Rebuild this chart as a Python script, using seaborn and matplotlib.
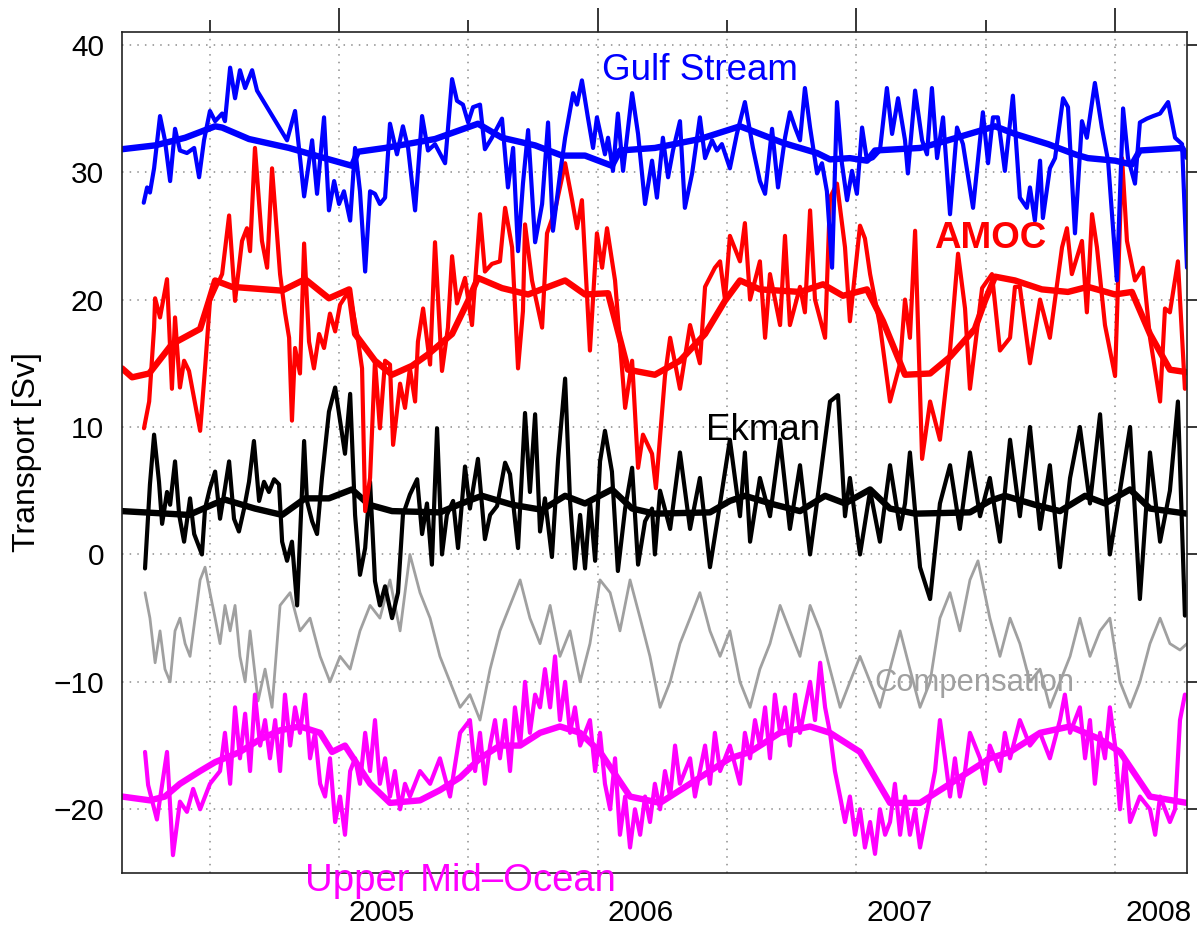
import matplotlib
matplotlib.use("Agg")
import matplotlib.pyplot as plt
import matplotlib.transforms as mtransforms
import seaborn as sns

# time axis in decimal years, transports in Sv
gs_t = [2004.245, 2004.258, 2004.269, 2004.285, 2004.308, 2004.327, 2004.347, 2004.366, 2004.385, 2004.412,
        2004.440, 2004.459, 2004.478, 2004.501, 2004.521, 2004.548, 2004.559, 2004.579, 2004.598, 2004.617,
        2004.637, 2004.664, 2004.683, 2004.799, 2004.830, 2004.865, 2004.896, 2004.915, 2004.942, 2004.961,
        2004.981, 2005.000, 2005.019, 2005.043, 2005.062, 2005.081, 2005.101, 2005.120, 2005.139, 2005.158,
        2005.178, 2005.197, 2005.224, 2005.247, 2005.267, 2005.294, 2005.321, 2005.344, 2005.371, 2005.410,
        2005.437, 2005.456, 2005.479, 2005.499, 2005.518, 2005.545, 2005.564, 2005.591, 2005.630, 2005.653,
        2005.673, 2005.692, 2005.711, 2005.731, 2005.758, 2005.785, 2005.808, 2005.827, 2005.854, 2005.874,
        2005.905, 2005.920, 2005.939, 2005.962, 2005.982, 2005.997, 2006.028, 2006.040, 2006.059, 2006.078,
        2006.098, 2006.133, 2006.156, 2006.183, 2006.210, 2006.229, 2006.252, 2006.272, 2006.291, 2006.318,
        2006.337, 2006.365, 2006.395, 2006.415, 2006.442, 2006.461, 2006.480, 2006.511, 2006.538, 2006.569,
        2006.600, 2006.627, 2006.647, 2006.674, 2006.697, 2006.724, 2006.743, 2006.763, 2006.782, 2006.801,
        2006.821, 2006.848, 2006.867, 2006.886, 2006.906, 2006.925, 2006.944, 2006.964, 2006.983, 2007.002,
        2007.022, 2007.041, 2007.064, 2007.091, 2007.118, 2007.138, 2007.161, 2007.188, 2007.199, 2007.227,
        2007.254, 2007.273, 2007.292, 2007.312, 2007.335, 2007.362, 2007.389, 2007.412, 2007.451, 2007.489,
        2007.509, 2007.528, 2007.547, 2007.574, 2007.605, 2007.632, 2007.659, 2007.671, 2007.690, 2007.710,
        2007.721, 2007.748, 2007.768, 2007.799, 2007.818, 2007.845, 2007.872, 2007.891, 2007.922, 2007.949,
        2007.973, 2008.007, 2008.031, 2008.050, 2008.077, 2008.096, 2008.123, 2008.147, 2008.174, 2008.205,
        2008.232, 2008.259, 2008.278]
gs_v = [27.6, 28.8, 28.4, 30.3, 34.4, 32.5, 29.3, 33.4, 31.7, 31.5,
        31.9, 29.6, 32.5, 34.8, 34.0, 34.6, 34.0, 38.2, 35.8, 38.0,
        36.6, 38.0, 36.4, 32.5, 34.8, 28.1, 32.5, 28.3, 34.3, 27.0,
        29.3, 27.5, 28.5, 26.2, 31.9, 28.5, 22.2, 28.5, 28.3, 27.5,
        28.0, 33.8, 31.4, 33.6, 31.9, 27.0, 34.4, 31.7, 32.2, 30.7,
        37.3, 35.6, 35.3, 33.9, 35.1, 35.3, 31.8, 32.7, 34.2, 28.8,
        31.9, 23.8, 29.1, 33.3, 24.5, 27.5, 33.9, 25.4, 29.8, 32.7,
        36.2, 35.3, 37.2, 34.3, 31.9, 34.3, 31.4, 32.7, 30.1, 34.6,
        30.1, 36.2, 33.0, 27.5, 30.9, 28.0, 32.7, 29.6, 31.7, 34.0,
        27.2, 29.9, 34.3, 31.1, 32.5, 31.7, 32.2, 30.3, 33.0, 35.5,
        31.9, 29.3, 28.3, 33.4, 28.8, 32.7, 34.7, 33.5, 32.5, 36.6,
        33.5, 29.9, 30.7, 28.5, 22.5, 35.5, 30.7, 27.8, 30.1, 28.3,
        33.5, 30.9, 31.1, 31.7, 36.6, 33.0, 35.8, 32.5, 29.9, 36.4,
        32.5, 31.4, 36.6, 31.1, 34.3, 26.7, 33.5, 32.2, 27.2, 34.7,
        30.7, 34.3, 34.3, 30.1, 36.0, 28.0, 27.2, 28.8, 26.2, 30.9,
        26.4, 30.3, 31.1, 35.8, 35.1, 25.2, 34.0, 32.7, 37.0, 33.5,
        30.9, 21.5, 35.0, 31.1, 29.1, 33.9, 34.2, 34.4, 34.6, 35.5,
        32.7, 32.2, 22.5]

gs_smooth_t = [2004.161, 2004.289, 2004.405, 2004.521, 2004.548, 2004.652, 2004.807, 2004.927, 2005.050, 2005.073,
               2005.178, 2005.371, 2005.537, 2005.630, 2005.758, 2005.862, 2005.951, 2006.055, 2006.086, 2006.221,
               2006.395, 2006.550, 2006.589, 2006.716, 2006.848, 2006.898, 2006.975, 2007.041, 2007.072, 2007.246,
               2007.354, 2007.536, 2007.613, 2007.741, 2007.845, 2007.895, 2008.000, 2008.065, 2008.096, 2008.259,
               2008.278]
gs_smooth_v = [31.8, 32.1, 32.7, 33.6, 33.5, 32.6, 31.9, 31.2, 30.5, 31.6,
               31.9, 32.6, 33.8, 32.7, 32.1, 31.3, 31.3, 30.5, 31.7, 31.9,
               32.6, 33.6, 33.3, 32.3, 31.5, 31.0, 31.1, 30.9, 31.7, 31.9,
               32.5, 33.6, 33.0, 32.2, 31.4, 31.1, 30.9, 30.6, 31.7, 31.9,
               31.2]

amoc_t = [2004.246, 2004.266, 2004.285, 2004.289, 2004.308, 2004.335, 2004.354, 2004.366, 2004.385, 2004.401,
          2004.420, 2004.463, 2004.482, 2004.501, 2004.548, 2004.575, 2004.598, 2004.625, 2004.644, 2004.656,
          2004.675, 2004.702, 2004.722, 2004.741, 2004.772, 2004.791, 2004.807, 2004.818, 2004.830, 2004.849,
          2004.865, 2004.884, 2004.903, 2004.923, 2004.942, 2004.965, 2004.985, 2005.004, 2005.039, 2005.070,
          2005.089, 2005.101, 2005.120, 2005.139, 2005.158, 2005.178, 2005.197, 2005.209, 2005.236, 2005.255,
          2005.274, 2005.294, 2005.305, 2005.325, 2005.352, 2005.371, 2005.398, 2005.421, 2005.437, 2005.456,
          2005.487, 2005.514, 2005.545, 2005.564, 2005.591, 2005.622, 2005.642, 2005.669, 2005.692, 2005.711,
          2005.719, 2005.746, 2005.785, 2005.804, 2005.835, 2005.874, 2005.901, 2005.920, 2005.939, 2005.970,
          2005.997, 2006.017, 2006.036, 2006.067, 2006.106, 2006.133, 2006.156, 2006.175, 2006.210, 2006.225,
          2006.260, 2006.280, 2006.318, 2006.357, 2006.395, 2006.415, 2006.453, 2006.473, 2006.492, 2006.511,
          2006.550, 2006.569, 2006.589, 2006.627, 2006.647, 2006.666, 2006.705, 2006.724, 2006.743, 2006.782,
          2006.801, 2006.821, 2006.840, 2006.879, 2006.898, 2006.925, 2006.956, 2006.975, 2007.014, 2007.033,
          2007.053, 2007.091, 2007.130, 2007.169, 2007.188, 2007.207, 2007.227, 2007.254, 2007.285, 2007.323,
          2007.362, 2007.393, 2007.420, 2007.439, 2007.486, 2007.524, 2007.555, 2007.594, 2007.613, 2007.632,
          2007.671, 2007.710, 2007.748, 2007.795, 2007.814, 2007.833, 2007.872, 2007.891, 2007.911, 2007.930,
          2007.961, 2008.000, 2008.027, 2008.046, 2008.077, 2008.108, 2008.135, 2008.174, 2008.193, 2008.212,
          2008.243, 2008.270]
amoc_v = [9.9, 12.0, 17.8, 20.1, 18.6, 21.6, 13.0, 18.6, 13.1, 15.2,
          14.4, 9.7, 14.6, 19.9, 22.0, 26.6, 19.9, 24.6, 25.6, 23.8,
          31.9, 24.6, 22.5, 30.3, 22.0, 19.0, 17.0, 10.5, 16.2, 14.2,
          24.4, 16.7, 14.6, 17.3, 16.2, 18.9, 17.5, 19.6, 20.7, 17.3,
          14.6, 3.4, 6.0, 15.2, 9.9, 15.2, 14.9, 8.6, 13.4, 11.5,
          14.6, 12.0, 16.7, 19.3, 14.9, 24.5, 14.4, 17.8, 23.4, 19.7,
          21.7, 18.0, 26.7, 22.2, 22.8, 23.0, 27.2, 24.1, 14.6, 19.1,
          25.9, 21.5, 17.8, 25.2, 27.0, 30.7, 27.8, 25.6, 27.8, 16.0,
          25.2, 22.5, 25.6, 21.5, 11.5, 15.2, 6.8, 9.4, 7.9, 5.2,
          14.0, 17.0, 13.0, 18.0, 15.0, 21.0, 22.5, 23.0, 20.0, 25.0,
          23.0, 26.0, 20.0, 23.0, 17.0, 22.0, 18.0, 25.0, 18.0, 21.0,
          19.0, 27.0, 20.0, 17.0, 28.0, 29.1, 24.1, 18.3, 25.8, 24.8,
          22.0, 18.0, 12.0, 15.0, 20.0, 17.0, 25.4, 7.5, 12.0, 9.0,
          16.0, 23.6, 19.3, 13.0, 20.9, 22.0, 16.0, 17.0, 21.0, 21.0,
          15.0, 20.0, 17.0, 24.1, 25.6, 22.0, 24.6, 19.0, 26.7, 24.1,
          18.0, 14.0, 31.1, 24.6, 21.5, 22.5, 17.0, 12.0, 19.3, 19.0,
          23.0, 13.0]

amoc_smooth_t = [2004.161, 2004.200, 2004.266, 2004.354, 2004.463, 2004.497, 2004.521, 2004.586, 2004.780, 2004.869,
                 2004.961, 2005.039, 2005.062, 2005.139, 2005.205, 2005.282, 2005.344, 2005.437, 2005.499, 2005.537,
                 2005.630, 2005.731, 2005.874, 2005.951, 2006.040, 2006.117, 2006.221, 2006.318, 2006.415, 2006.492,
                 2006.550, 2006.627, 2006.782, 2006.871, 2006.948, 2007.041, 2007.103, 2007.188, 2007.285, 2007.362,
                 2007.458, 2007.497, 2007.536, 2007.613, 2007.717, 2007.818, 2007.895, 2008.000, 2008.065, 2008.135,
                 2008.212, 2008.278]
amoc_smooth_v = [14.6, 13.9, 14.2, 16.5, 17.7, 19.9, 21.5, 21.0, 20.7, 21.6,
                 20.1, 20.8, 17.3, 15.2, 14.1, 14.8, 15.7, 17.3, 19.9, 21.7,
                 20.9, 20.4, 21.5, 20.4, 20.5, 14.5, 14.1, 15.2, 17.3, 19.9,
                 21.5, 20.8, 20.6, 21.2, 20.3, 20.8, 18.3, 14.1, 14.2, 15.5,
                 17.7, 19.9, 21.8, 21.5, 20.8, 20.6, 21.0, 20.4, 20.6, 17.3,
                 14.5, 14.3]

ek_t = [2004.250, 2004.269, 2004.285, 2004.304, 2004.316, 2004.335, 2004.347, 2004.366, 2004.382, 2004.401,
        2004.424, 2004.440, 2004.470, 2004.482, 2004.501, 2004.521, 2004.540, 2004.559, 2004.575, 2004.594,
        2004.613, 2004.633, 2004.652, 2004.671, 2004.691, 2004.710, 2004.729, 2004.749, 2004.768, 2004.780,
        2004.799, 2004.818, 2004.838, 2004.865, 2004.876, 2004.896, 2004.915, 2004.934, 2004.961, 2004.985,
        2005.004, 2005.023, 2005.043, 2005.062, 2005.081, 2005.101, 2005.120, 2005.139, 2005.158, 2005.178,
        2005.205, 2005.228, 2005.247, 2005.274, 2005.302, 2005.321, 2005.340, 2005.359, 2005.379, 2005.398,
        2005.417, 2005.441, 2005.460, 2005.487, 2005.506, 2005.537, 2005.564, 2005.584, 2005.611, 2005.642,
        2005.661, 2005.692, 2005.719, 2005.738, 2005.758, 2005.777, 2005.796, 2005.823, 2005.847, 2005.874,
        2005.893, 2005.912, 2005.932, 2005.951, 2005.970, 2005.990, 2006.009, 2006.028, 2006.055, 2006.078,
        2006.106, 2006.133, 2006.156, 2006.183, 2006.210, 2006.221, 2006.241, 2006.280, 2006.318, 2006.357,
        2006.395, 2006.434, 2006.473, 2006.511, 2006.550, 2006.569, 2006.589, 2006.627, 2006.666, 2006.705,
        2006.743, 2006.782, 2006.821, 2006.860, 2006.898, 2006.929, 2006.956, 2006.975, 2007.014, 2007.053,
        2007.091, 2007.130, 2007.169, 2007.188, 2007.207, 2007.246, 2007.285, 2007.323, 2007.362, 2007.400,
        2007.439, 2007.478, 2007.516, 2007.555, 2007.594, 2007.632, 2007.671, 2007.710, 2007.748, 2007.787,
        2007.826, 2007.864, 2007.903, 2007.942, 2007.980, 2008.019, 2008.058, 2008.096, 2008.135, 2008.174,
        2008.212, 2008.243, 2008.270]
ek_v = [-1.1, 5.5, 9.4, 5.7, 2.4, 4.9, 3.9, 7.3, 3.1, 1.0,
        4.4, 1.6, 0.0, 3.6, 5.2, 6.5, 2.8, 5.2, 7.3, 2.8,
        1.8, 3.6, 5.7, 8.9, 4.2, 5.7, 4.9, 5.9, 5.5, 1.0,
        -0.5, 1.0, -4.0, 8.9, 4.2, 2.6, 1.6, 6.0, 11.2, 13.1,
        10.5, 7.9, 12.6, 3.1, -1.6, 0.5, 5.7, -2.1, -4.0, -2.5,
        -5.0, -3.0, 3.1, 4.7, 5.9, 1.6, 4.0, -0.8, 9.9, 0.0,
        3.1, 4.2, 0.5, 6.9, 3.6, 7.5, 1.2, 3.1, 3.8, 7.2,
        6.3, 0.5, 11.1, 4.9, 11.0, 1.8, 4.4, -0.2, 7.5, 13.8,
        4.2, -1.1, 3.1, -1.1, 4.2, -0.5, 7.3, 9.7, 6.5, -1.3,
        3.6, 6.8, -0.8, 2.6, 3.6, 0.0, 5.0, 2.0, 8.0, 2.0,
        6.0, -1.0, 4.0, 9.0, 3.0, 8.0, 1.0, 6.0, 3.0, 9.0,
        2.0, 7.0, 0.0, 6.0, 12.0, 12.5, 3.0, 6.0, 0.0, 5.0,
        1.0, 7.0, 2.0, 4.0, 8.0, -1.0, -3.5, 4.0, 7.0, 2.0,
        8.0, 3.0, 6.0, 1.0, 9.0, 3.0, 10.0, 2.0, 7.0, -1.0,
        6.0, 10.0, 4.0, 11.0, 0.0, 5.0, 10.0, -3.5, 8.0, 1.0,
        5.0, 12.0, -4.8]

ek_smooth_t = [2004.161, 2004.420, 2004.521, 2004.559, 2004.675, 2004.780, 2004.869, 2004.961, 2005.050, 2005.116,
               2005.205, 2005.390, 2005.499, 2005.553, 2005.669, 2005.785, 2005.874, 2005.951, 2006.055, 2006.133,
               2006.221, 2006.434, 2006.511, 2006.569, 2006.685, 2006.782, 2006.879, 2006.956, 2007.053, 2007.130,
               2007.227, 2007.439, 2007.516, 2007.574, 2007.690, 2007.787, 2007.884, 2007.961, 2008.058, 2008.135,
               2008.278]
ek_smooth_v = [3.4, 3.1, 4.0, 4.3, 3.6, 3.1, 4.4, 4.4, 5.1, 3.9,
               3.4, 3.3, 4.2, 4.6, 3.9, 3.5, 4.6, 4.0, 5.1, 3.6,
               3.2, 3.3, 4.2, 4.6, 3.9, 3.4, 4.6, 4.0, 5.1, 3.6,
               3.2, 3.3, 4.2, 4.6, 3.9, 3.4, 4.6, 4.0, 5.1, 3.6,
               3.2]

comp_t = [2004.250, 2004.269, 2004.289, 2004.308, 2004.327, 2004.347, 2004.366, 2004.385, 2004.405, 2004.424,
          2004.463, 2004.482, 2004.501, 2004.521, 2004.540, 2004.559, 2004.579, 2004.598, 2004.617, 2004.637,
          2004.656, 2004.687, 2004.714, 2004.741, 2004.772, 2004.811, 2004.849, 2004.888, 2004.927, 2004.965,
          2005.004, 2005.043, 2005.081, 2005.120, 2005.158, 2005.197, 2005.216, 2005.236, 2005.274, 2005.313,
          2005.352, 2005.390, 2005.429, 2005.468, 2005.506, 2005.545, 2005.584, 2005.622, 2005.661, 2005.700,
          2005.738, 2005.777, 2005.816, 2005.854, 2005.893, 2005.932, 2005.970, 2006.009, 2006.048, 2006.086,
          2006.125, 2006.164, 2006.202, 2006.241, 2006.280, 2006.318, 2006.357, 2006.395, 2006.434, 2006.473,
          2006.511, 2006.550, 2006.589, 2006.627, 2006.666, 2006.705, 2006.743, 2006.782, 2006.821, 2006.860,
          2006.898, 2006.937, 2006.975, 2007.014, 2007.053, 2007.091, 2007.130, 2007.169, 2007.207, 2007.246,
          2007.285, 2007.323, 2007.362, 2007.400, 2007.439, 2007.470, 2007.516, 2007.555, 2007.594, 2007.632,
          2007.671, 2007.710, 2007.748, 2007.787, 2007.826, 2007.864, 2007.903, 2007.942, 2007.980, 2008.019,
          2008.058, 2008.096, 2008.135, 2008.174, 2008.212, 2008.251, 2008.278]
comp_v = [-3.0, -5.0, -8.5, -6.0, -9.0, -10.0, -6.0, -5.0, -7.0, -8.0,
          -2.0, -1.0, -3.0, -5.0, -7.0, -4.0, -6.0, -4.0, -8.0, -10.0,
          -6.0, -11.5, -9.0, -12.0, -4.0, -3.0, -6.0, -5.0, -8.0, -10.0,
          -8.0, -9.0, -6.0, -4.0, -5.0, -2.0, -4.0, -6.0, 0.0, -3.0,
          -5.0, -8.0, -10.0, -12.0, -11.0, -13.0, -9.0, -6.0, -4.0, -2.0,
          -5.0, -7.0, -4.0, -8.0, -6.0, -10.0, -7.0, -2.0, -3.0, -6.0,
          -2.0, -5.0, -8.0, -12.0, -10.0, -7.0, -5.0, -3.0, -6.0, -8.0,
          -6.0, -10.0, -12.0, -9.0, -7.0, -4.0, -6.0, -8.0, -4.0, -6.0,
          -9.0, -12.0, -10.0, -8.0, -10.0, -12.0, -9.0, -6.0, -9.0, -12.0,
          -10.0, -5.0, -3.0, -6.0, -2.0, -0.5, -5.0, -8.0, -5.0, -7.0,
          -10.0, -9.0, -12.0, -10.0, -8.0, -5.0, -8.0, -6.0, -5.0, -10.0,
          -12.0, -10.0, -7.0, -5.0, -7.0, -7.5, -7.0]

umo_t = [2004.250, 2004.262, 2004.296, 2004.335, 2004.358, 2004.385, 2004.412, 2004.436, 2004.463, 2004.501,
         2004.540, 2004.559, 2004.579, 2004.598, 2004.617, 2004.637, 2004.656, 2004.675, 2004.695, 2004.714,
         2004.733, 2004.753, 2004.772, 2004.791, 2004.811, 2004.830, 2004.849, 2004.869, 2004.888, 2004.907,
         2004.927, 2004.946, 2004.965, 2004.985, 2005.004, 2005.023, 2005.043, 2005.062, 2005.081, 2005.101,
         2005.120, 2005.139, 2005.158, 2005.178, 2005.197, 2005.216, 2005.236, 2005.255, 2005.274, 2005.313,
         2005.352, 2005.390, 2005.429, 2005.468, 2005.506, 2005.526, 2005.545, 2005.564, 2005.584, 2005.603,
         2005.622, 2005.642, 2005.661, 2005.680, 2005.700, 2005.719, 2005.738, 2005.758, 2005.777, 2005.796,
         2005.816, 2005.835, 2005.854, 2005.874, 2005.893, 2005.912, 2005.932, 2005.970, 2005.990, 2006.009,
         2006.028, 2006.048, 2006.067, 2006.086, 2006.106, 2006.125, 2006.144, 2006.164, 2006.183, 2006.202,
         2006.221, 2006.241, 2006.260, 2006.280, 2006.299, 2006.318, 2006.357, 2006.376, 2006.395, 2006.415,
         2006.434, 2006.453, 2006.473, 2006.511, 2006.550, 2006.569, 2006.589, 2006.608, 2006.627, 2006.647,
         2006.666, 2006.685, 2006.705, 2006.724, 2006.743, 2006.763, 2006.782, 2006.801, 2006.821, 2006.840,
         2006.860, 2006.879, 2006.898, 2006.917, 2006.937, 2006.956, 2006.975, 2006.995, 2007.014, 2007.033,
         2007.053, 2007.072, 2007.091, 2007.111, 2007.130, 2007.149, 2007.169, 2007.188, 2007.207, 2007.227,
         2007.246, 2007.265, 2007.285, 2007.304, 2007.323, 2007.343, 2007.362, 2007.381, 2007.400, 2007.420,
         2007.439, 2007.478, 2007.497, 2007.516, 2007.555, 2007.574, 2007.594, 2007.632, 2007.671, 2007.710,
         2007.748, 2007.787, 2007.806, 2007.826, 2007.864, 2007.884, 2007.903, 2007.922, 2007.942, 2007.961,
         2007.980, 2008.000, 2008.019, 2008.038, 2008.058, 2008.096, 2008.135, 2008.155, 2008.174, 2008.212,
         2008.232, 2008.251, 2008.270]
umo_v = [-15.5, -18.1, -20.8, -15.5, -23.6, -19.4, -20.2, -18.4, -20.0, -18.0,
         -17.0, -14.0, -18.0, -12.0, -16.0, -12.5, -17.0, -11.0, -15.0, -13.0,
         -16.0, -13.0, -17.0, -11.0, -15.0, -12.0, -14.0, -11.0, -16.0, -14.0,
         -18.0, -19.0, -16.0, -21.0, -19.0, -22.0, -17.0, -16.0, -18.0, -14.0,
         -17.0, -13.0, -18.0, -16.0, -19.0, -17.0, -20.0, -18.0, -19.0, -17.0,
         -18.0, -16.0, -19.0, -14.0, -13.0, -17.0, -14.0, -18.0, -15.0, -13.0,
         -16.0, -13.0, -17.0, -12.0, -15.0, -10.0, -14.0, -11.0, -12.0, -9.0,
         -12.0, -8.0, -13.0, -10.0, -14.0, -12.0, -15.0, -13.0, -17.0, -14.0,
         -18.0, -20.0, -16.0, -22.0, -19.0, -23.0, -20.0, -22.0, -19.0, -21.0,
         -18.0, -20.0, -17.0, -19.0, -15.0, -18.0, -16.0, -19.0, -17.0, -15.0,
         -18.0, -14.0, -17.0, -15.0, -18.0, -14.0, -16.0, -13.0, -15.0, -12.0,
         -16.0, -11.0, -14.0, -12.0, -15.0, -11.0, -14.0, -12.0, -10.0, -13.0,
         -8.5, -12.0, -14.0, -17.0, -19.0, -21.0, -19.0, -22.0, -20.0, -23.0,
         -21.0, -23.5, -20.0, -22.0, -21.0, -18.0, -22.0, -19.0, -22.0, -20.0,
         -23.0, -21.0, -19.0, -17.0, -13.0, -16.0, -19.0, -16.0, -19.0, -17.0,
         -14.0, -16.0, -18.0, -15.0, -17.0, -14.0, -16.0, -13.0, -15.0, -14.0,
         -16.0, -13.0, -11.0, -14.0, -12.0, -16.0, -13.0, -18.0, -14.0, -16.0,
         -12.0, -15.0, -20.0, -16.0, -21.0, -19.0, -20.0, -22.0, -19.0, -21.0,
         -20.0, -13.0, -11.0]

umo_smooth_t = [2004.161, 2004.269, 2004.327, 2004.385, 2004.463, 2004.521, 2004.617, 2004.695, 2004.772, 2004.849,
                2004.927, 2004.973, 2005.023, 2005.120, 2005.197, 2005.313, 2005.390, 2005.468, 2005.545, 2005.622,
                2005.700, 2005.777, 2005.854, 2005.932, 2006.009, 2006.125, 2006.241, 2006.357, 2006.434, 2006.511,
                2006.589, 2006.705, 2006.821, 2006.898, 2007.014, 2007.130, 2007.246, 2007.362, 2007.439, 2007.516,
                2007.594, 2007.710, 2007.826, 2007.942, 2008.019, 2008.135, 2008.278]
umo_smooth_v = [-19.0, -19.3, -19.0, -18.0, -17.0, -16.3, -15.5, -14.5, -13.8, -13.5,
                -14.0, -15.5, -15.0, -18.0, -19.5, -19.3, -18.5, -17.5, -16.0, -15.0,
                -15.0, -14.0, -13.5, -14.0, -15.5, -19.0, -19.5, -18.0, -17.0, -16.0,
                -15.5, -14.0, -13.5, -14.0, -15.5, -19.5, -19.5, -18.0, -17.0, -16.0,
                -15.5, -14.0, -13.5, -14.5, -15.5, -19.0, -19.5]

year_ticks = [2005, 2006, 2007, 2008]
half_year_ticks = [2004.5, 2005.5, 2006.5, 2007.5]
year_labels = ["2005", "2006", "2007", "2008"]
y_ticks = [-20, -10, 0, 10, 20, 30, 40]

sns.set_style("white")
plt.rcParams["font.family"] = ["Liberation Sans", "DejaVu Sans"]
plt.rcParams["axes.unicode_minus"] = True

fig = plt.figure(figsize=(12.02, 9.38), dpi=100)
ax = fig.add_axes([0.1015, 0.0693, 0.886, 0.8966])

thin = 3.0
thick = 4.6
kw = dict(ax=ax, estimator=None, legend=False, solid_joinstyle="round", solid_capstyle="round")

sns.lineplot(x=comp_t, y=comp_v, color="#a0a0a0", linewidth=2.0, **kw)
sns.lineplot(x=umo_t, y=umo_v, color="#ff00ff", linewidth=thin, **kw)
sns.lineplot(x=umo_smooth_t, y=umo_smooth_v, color="#ff00ff", linewidth=thick, **kw)
sns.lineplot(x=ek_t, y=ek_v, color="black", linewidth=thin, **kw)
sns.lineplot(x=ek_smooth_t, y=ek_smooth_v, color="black", linewidth=thick, **kw)
sns.lineplot(x=amoc_t, y=amoc_v, color="#ff0000", linewidth=thin, **kw)
sns.lineplot(x=amoc_smooth_t, y=amoc_smooth_v, color="#ff0000", linewidth=thick, **kw)
sns.lineplot(x=gs_t, y=gs_v, color="#0000ff", linewidth=thin, **kw)
sns.lineplot(x=gs_smooth_t, y=gs_smooth_v, color="#0000ff", linewidth=thick, **kw)

ax.set_xlim(2004.161, 2008.278)
ax.set_ylim(-25, 41)

ax.set_xticks(year_ticks)
ax.set_xticklabels(year_labels)
ax.set_xticks(half_year_ticks, minor=True)
ax.set_yticks(y_ticks)
ax.set_yticklabels([str(v).replace("-", "\u2212") for v in y_ticks])

ax.tick_params(axis="both", which="both", direction="out", top=True, right=True,
               color="black", labelcolor="black", width=1.1, labelsize=21.5)
ax.tick_params(axis="x", which="major", length=17, pad=2)
ax.tick_params(axis="x", which="minor", length=8.5)
ax.tick_params(axis="y", which="major", length=7, pad=6)

# year labels sit a little to the right of their ticks
offset = mtransforms.ScaledTranslation(0.43, 0, fig.dpi_scale_trans)
for lab in ax.get_xticklabels():
    lab.set_transform(lab.get_transform() + offset)

ax.grid(True, which="both", axis="x", color="#8c8c8c", linestyle=(0, (1, 4)), linewidth=1.1)
ax.grid(True, which="major", axis="y", color="#8c8c8c", linestyle=(0, (1, 4)), linewidth=1.1)
for sp in ax.spines.values():
    sp.set_color("#222222")
    sp.set_linewidth(1.2)

ax.set_xlabel("")
ax.set_ylabel("Transport [Sv]", fontsize=23, color="black", labelpad=8)

ax.text(2006.395, 38.0, "Gulf Stream", color="#0000ff", fontsize=26.5, ha="center", va="center")
ax.text(2007.516, 24.8, "AMOC", color="#ff0000", fontsize=26.5, fontweight="bold", ha="center", va="center")
ax.text(2006.639, 9.7, "Ekman", color="black", fontsize=26.5, ha="center", va="center")
ax.text(2007.458, -10.1, "Compensation", color="#a0a0a0", fontsize=22.3, ha="center", va="center")
ax.text(2005.468, -25.6, "Upper Mid\u2013Ocean", color="#ff00ff", fontsize=27.5,
        ha="center", va="center", clip_on=False)

fig.savefig("out.png", dpi=100)
